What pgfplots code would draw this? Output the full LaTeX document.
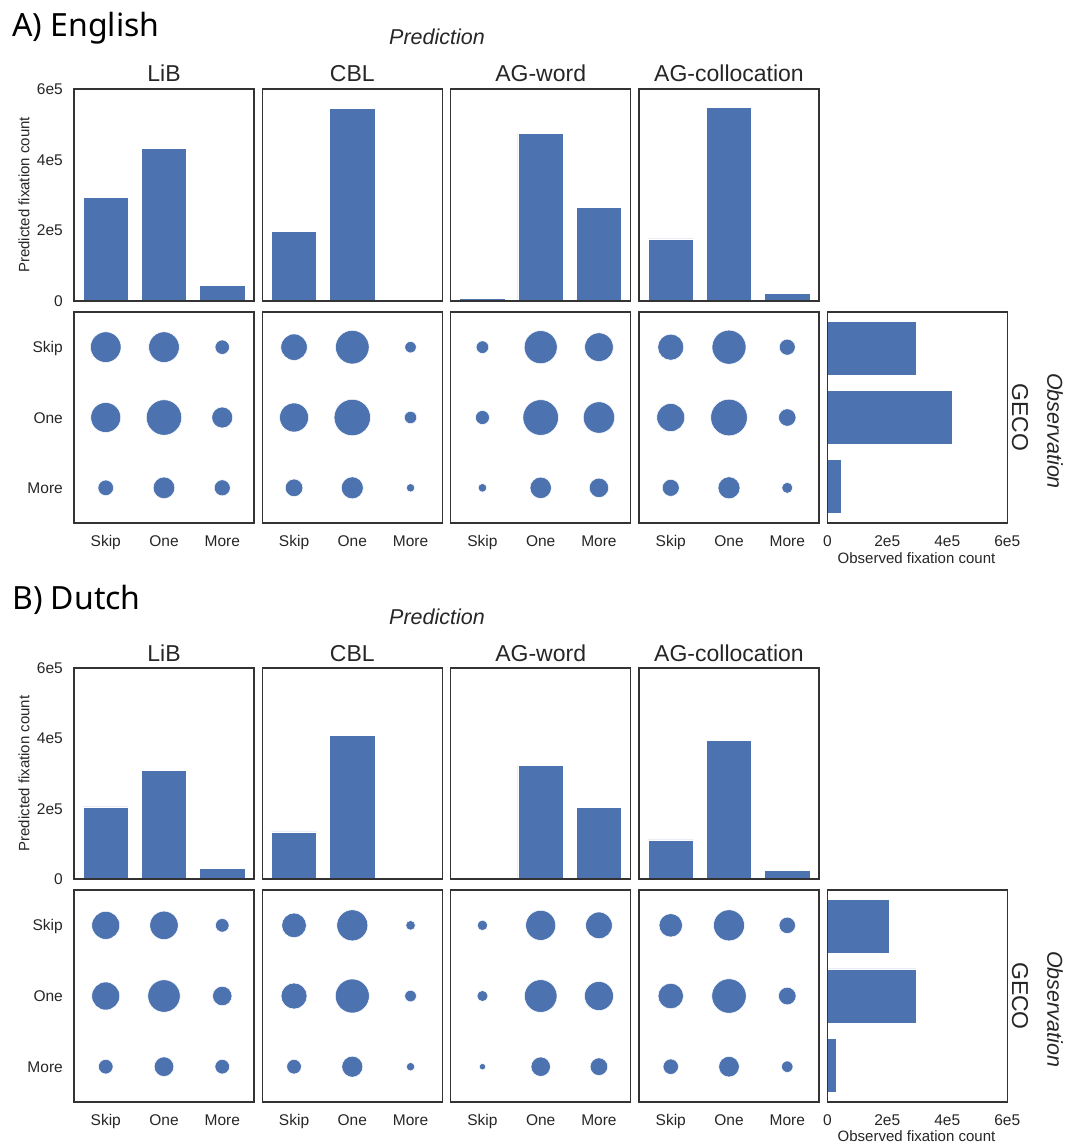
\documentclass[border=0pt]{standalone}
\usepackage{fontspec}
\setmainfont{Liberation Sans}
\newfontfamily\titlefont{Noto Sans}
\usepackage{pgfplots}
\pgfplotsset{compat=1.18}
\definecolor{sbblue}{HTML}{4C72B0}
\definecolor{txt}{HTML}{262626}
\definecolor{frame}{HTML}{333333}

\pgfplotsset{
  base/.style={scale only axis, anchor=north west, width=180pt,
    axis line style={draw=frame, line width=1.1pt},
    major tick length=0pt, tick style={draw=none},
    ticklabel style={font=\fontsize{15.5}{18}\selectfont, text=txt, inner sep=0pt},
    xticklabel style={anchor=base, yshift=-23.7pt},
    yticklabel style={anchor=base east, xshift=-11pt, yshift=-5.5pt},
    scaled ticks=false, axis on top,
    every axis title shift=0pt,
    title style={font=\fontsize{23}{27}\selectfont, text=txt, anchor=base, at={(0.5,1)}, yshift=7pt, inner sep=0pt},
  },
  barp/.style={base, height=212pt, ybar, bar width=0.78, xmin=-0.545, xmax=2.545, ymin=0, ymax=6e5, xtick=\empty, ytick=\empty},
  bubp/.style={base, height=211pt, xmin=-0.545, xmax=2.545, ymin=-0.5, ymax=2.5, y dir=reverse, xtick={0,1,2}, xticklabels={Skip,One,More}, ytick=\empty},
  obsp/.style={base, height=211pt, xbar, bar width=0.78, xmin=0, xmax=6e5, ymin=-0.53, ymax=2.53, y dir=reverse, ytick=\empty, xtick={0,2e5,4e5,6e5}, xticklabels={0,2e5,4e5,6e5}},
  leftbar/.style={ytick={0,2e5,4e5,6e5}, yticklabels={0,2e5,4e5,6e5}},
  leftbub/.style={ytick={0,1,2}, yticklabels={Skip,One,More}},
  barplot/.style={fill=sbblue, draw=white, line width=0.6pt},
  bubble/.style={scatter, only marks, mark=*, point meta={\thisrow{r}},
    scatter/use mapped color={draw=white, fill=sbblue},
    mark options={line width=0.5pt},
    visualization depends on={\thisrow{r}\as\rr},
    scatter/@pre marker code/.append style={/tikz/mark size=\rr}},
}

\begin{document}
\begin{tikzpicture}
\path[use as bounding box] (0,0) rectangle (1065pt,-1145pt);

% ================= A) English =================
\node[anchor=base west, inner sep=0pt, font=\titlefont\fontsize{32}{38}\selectfont] at (12pt,-37pt) {A) English};
\node[anchor=base, inner sep=0pt, font=\itshape\fontsize{21.5}{26}\selectfont, text=txt] at (437pt,-45pt) {Prediction};
\node[rotate=90, font=\fontsize{15}{18}\selectfont, text=txt] at (24pt,-195pt) {Predicted fixation count};
\node[rotate=-90, font=\fontsize{23}{27}\selectfont, text=txt] at (1020pt,-417.5pt) {GECO};
\node[rotate=-90, font=\itshape\fontsize{21.5}{26}\selectfont, text=txt] at (1055pt,-431pt) {Observation};
\node[anchor=base, inner sep=0pt, font=\fontsize{15}{18}\selectfont, text=txt] at (916.5pt,-563pt) {Observed fixation count};

% bar panels
\begin{axis}[barp, leftbar, at={(74pt,-89pt)}, title={LiB}]
\addplot[barplot] coordinates {(0,293500) (1,432000) (2,44000)};
\end{axis}
\begin{axis}[barp, at={(262.3pt,-89pt)}, title={CBL}]
\addplot[barplot] coordinates {(0,198000) (1,546000) (2,4000)};
\end{axis}
\begin{axis}[barp, at={(450.7pt,-89pt)}, title={AG-word}]
\addplot[barplot] coordinates {(0,7500) (1,475000) (2,266000)};
\end{axis}
\begin{axis}[barp, at={(639pt,-89pt)}, title={AG-collocation}]
\addplot[barplot] coordinates {(0,176000) (1,547000) (2,22000)};
\end{axis}

% bubble panels
\begin{axis}[bubp, leftbub, at={(74pt,-312pt)}]
\addplot[bubble] table {
x y r
0 0 15.3
1 0 15.3
2 0 7.2
0 1 15.0
1 1 17.7
2 1 10.5
0 2 7.8
1 2 10.8
2 2 8.0
};
\end{axis}
\begin{axis}[bubp, at={(262.3pt,-312pt)}]
\addplot[bubble] table {
x y r
0 0 13.2
1 0 16.8
2 0 5.7
0 1 14.5
1 1 18.2
2 1 6.2
0 2 8.8
1 2 11.0
2 2 4.2
};
\end{axis}
\begin{axis}[bubp, at={(450.7pt,-312pt)}]
\addplot[bubble] table {
x y r
0 0 6.3
1 0 16.5
2 0 14.3
0 1 7.0
1 1 17.8
2 1 15.7
0 2 4.3
1 2 10.7
2 2 9.7
};
\end{axis}
\begin{axis}[bubp, at={(639pt,-312pt)}]
\addplot[bubble] table {
x y r
0 0 13.0
1 0 17.0
2 0 8.0
0 1 14.0
1 1 18.3
2 1 8.7
0 2 8.5
1 2 11.0
2 2 5.5
};
\end{axis}

% observed panel
\begin{axis}[obsp, at={(827.3pt,-312pt)}]
\addplot[barplot] coordinates {(298000,0) (418000,1) (48000,2)};
\end{axis}

% ================= B) Dutch =================
\node[anchor=base west, inner sep=0pt, font=\titlefont\fontsize{32}{38}\selectfont] at (12pt,-609pt) {B) Dutch};
\node[anchor=base, inner sep=0pt, font=\itshape\fontsize{21.5}{26}\selectfont, text=txt] at (437pt,-624pt) {Prediction};
\node[rotate=90, font=\fontsize{15}{18}\selectfont, text=txt] at (24pt,-773.5pt) {Predicted fixation count};
\node[rotate=-90, font=\fontsize{23}{27}\selectfont, text=txt] at (1020pt,-996pt) {GECO};
\node[rotate=-90, font=\itshape\fontsize{21.5}{26}\selectfont, text=txt] at (1055pt,-1009pt) {Observation};
\node[anchor=base, inner sep=0pt, font=\fontsize{15}{18}\selectfont, text=txt] at (916.5pt,-1141pt) {Observed fixation count};

\begin{axis}[barp, leftbar, height=211pt, at={(74pt,-668pt)}, title={LiB}]
\addplot[barplot] coordinates {(0,205000) (1,309500) (2,31000)};
\end{axis}
\begin{axis}[barp, height=211pt, at={(262.3pt,-668pt)}, title={CBL}]
\addplot[barplot] coordinates {(0,134000) (1,408000) (2,1500)};
\end{axis}
\begin{axis}[barp, height=211pt, at={(450.7pt,-668pt)}, title={AG-word}]
\addplot[barplot] coordinates {(0,300) (1,324000) (2,204000)};
\end{axis}
\begin{axis}[barp, height=211pt, at={(639pt,-668pt)}, title={AG-collocation}]
\addplot[barplot] coordinates {(0,111000) (1,394000) (2,24700)};
\end{axis}

\begin{axis}[bubp, leftbub, height=212pt, at={(74pt,-890pt)}]
\addplot[bubble] table {
x y r
0 0 14.0
1 0 14.2
2 0 6.8
0 1 14.0
1 1 16.2
2 1 9.7
0 2 7.3
1 2 9.8
2 2 7.3
};
\end{axis}
\begin{axis}[bubp, height=212pt, at={(262.3pt,-890pt)}]
\addplot[bubble] table {
x y r
0 0 12.3
1 0 15.5
2 0 4.8
0 1 13.0
1 1 17.0
2 1 5.8
0 2 7.3
1 2 10.5
2 2 4.2
};
\end{axis}
\begin{axis}[bubp, height=212pt, at={(450.7pt,-890pt)}]
\addplot[bubble] table {
x y r
0 0 5.2
1 0 15.0
2 0 13.3
0 1 5.5
1 1 16.3
2 1 14.5
0 2 3.2
1 2 9.7
2 2 8.8
};
\end{axis}
\begin{axis}[bubp, height=212pt, at={(639pt,-890pt)}]
\addplot[bubble] table {
x y r
0 0 11.7
1 0 15.5
2 0 8.2
0 1 12.7
1 1 17.2
2 1 8.8
0 2 7.7
1 2 10.3
2 2 5.7
};
\end{axis}

\begin{axis}[obsp, height=212pt, at={(827.3pt,-890pt)}]
\addplot[barplot] coordinates {(207000,0) (295000,1) (30000,2)};
\end{axis}
\end{tikzpicture}
\end{document}
